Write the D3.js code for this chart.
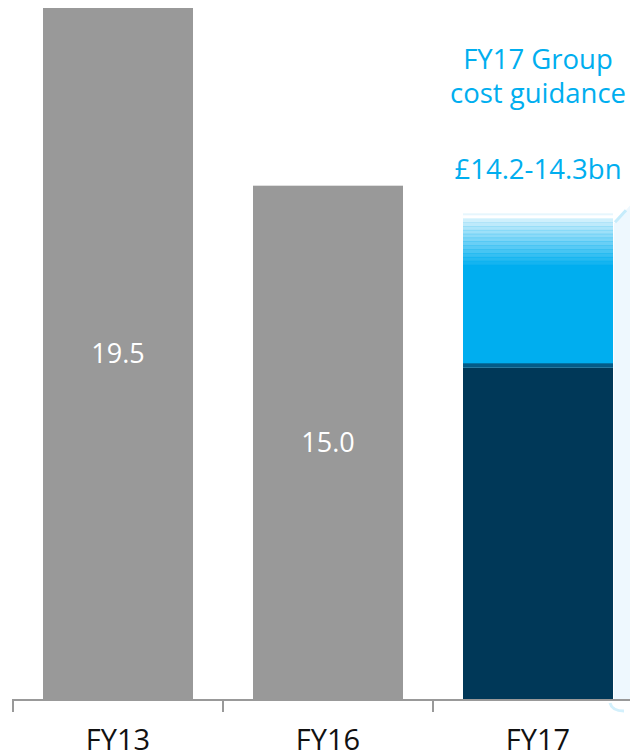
<!DOCTYPE html>
<html><head><meta charset="utf-8">
<script src="https://cdn.jsdelivr.net/npm/d3@7"></script>
<style>html,body{margin:0;padding:0;background:#fff;}svg{display:block;}</style>
</head><body>
<svg id="c" width="630" height="755"></svg>
<script>
const categories = ["FY13", "FY16", "FY17"];
const values = [19.5, 15.0, null];
const valueLabels = ["19.5", "15.0", ""];
const fy17Base = 10.4;       // dark segment
const fy17Mid = 13.0;        // solid blue top
const fy17Top = 14.3;        // faded top of guidance
const guidanceTitle = ["FY17 Group", "cost guidance"];
const guidanceRange = "£14.2-14.3bn";
const yDomain = [2, 19.5];

(function () {
const svg = d3.select("#c");
const font = "'Open Sans', 'Noto Sans', sans-serif";
const x = d3.scaleBand().domain(categories).range([13, 643])
  .paddingInner(60/210).paddingOuter(30/210);
const y = d3.scaleLinear().domain(yDomain).range([699, 8]);
const base = y(yDomain[0]);

// pale side panel right of FY17
const sx = x("FY17") + x.bandwidth() + 1;
const tY = y(fy17Top);
svg.append("path")
  .attr("d", `M${sx},${tY+10} L${sx+17},${tY-9} L630,${tY-9} L630,${base} L${sx},${base} Z`)
  .attr("fill", "#eef8fe");
svg.append("line").attr("x1", sx+1).attr("y1", tY+9).attr("x2", sx+12).attr("y2", tY-3)
  .attr("stroke", "#c6ecfb").attr("stroke-width", 3);
svg.append("path").attr("d", `M${sx-4},${base+4} Q${sx-2},${base+12} ${sx+10},${base+12}`)
  .attr("fill","none").attr("stroke","#d3f0fc").attr("stroke-width",3);

// gray bars
categories.forEach((c, i) => {
  if (values[i] == null) return;
  svg.append("rect").attr("x", x(c)).attr("y", y(values[i]))
    .attr("width", x.bandwidth()).attr("height", base - y(values[i]))
    .attr("fill", "#999999");
  svg.append("text").attr("x", x(c) + x.bandwidth()/2)
    .attr("y", (y(values[i]) + base)/2 + 9.8)
    .attr("text-anchor", "middle").attr("fill", "#fff")
    .style("font-family", font).style("font-size", "27px")
    .text(valueLabels[i]);
});

// FY17 stacked bar
const fx = x("FY17"), fw = x.bandwidth();
svg.append("rect").attr("x", fx).attr("y", y(fy17Base)).attr("width", fw)
  .attr("height", base - y(fy17Base)).attr("fill", "#003858");
svg.append("rect").attr("x", fx).attr("y", y(fy17Mid)).attr("width", fw)
  .attr("height", y(fy17Base) - y(fy17Mid)).attr("fill", "#00aeef");
svg.append("rect").attr("x", fx).attr("y", y(fy17Base) - 4).attr("width", fw)
  .attr("height", 4).attr("fill", "#045b87");
// faded stripes
const nStripes = 12;
const sTop = tY + 5, sBot = y(fy17Mid);
const sh = (sBot - sTop) / nStripes;
for (let k = 0; k < nStripes; k++) {
  svg.append("rect").attr("x", fx).attr("y", sTop + k*sh).attr("width", fw)
    .attr("height", sh + 0.5).attr("fill", "#00aeef")
    .attr("opacity", 0.12 + 0.8 * (k+1) / nStripes);
}
svg.append("rect").attr("x", fx).attr("y", tY).attr("width", fw)
  .attr("height", 2).attr("fill", "#e6f6fd");

// axis
svg.append("line").attr("x1", 12).attr("x2", 630).attr("y1", base+1).attr("y2", base+1)
  .attr("stroke", "#999").attr("stroke-width", 2);
categories.forEach(c => {
  const t = x(c) - 30;
  svg.append("line").attr("x1", t).attr("x2", t).attr("y1", base).attr("y2", base+13)
    .attr("stroke", "#999").attr("stroke-width", 2);
});
categories.forEach(c => {
  svg.append("text").attr("x", x(c) + x.bandwidth()/2).attr("y", 750)
    .attr("text-anchor", "middle").attr("fill", "#111")
    .style("font-family", font).style("font-size", "29px").text(c);
});

// guidance text
const cx = fx + fw/2;
guidanceTitle.forEach((t, i) => {
  svg.append("text").attr("x", cx).attr("y", 69 + i*34).attr("text-anchor", "middle")
    .attr("fill", "#00aeef").style("font-family", font).style("font-size", "27.5px").text(t);
});
svg.append("text").attr("x", cx).attr("y", 179).attr("text-anchor", "middle")
  .attr("fill", "#00aeef").style("font-family", font).style("font-size", "27.5px").text(guidanceRange);
})();
</script>
</body></html>
